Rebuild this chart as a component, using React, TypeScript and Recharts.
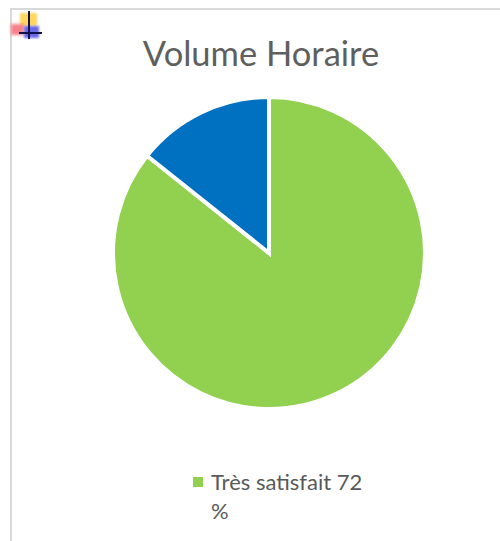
import { Legend, Pie, PieChart, Cell } from 'recharts'

const categories = ['Très satisfait 72 %', 'Satisfait 12 %']
const values = [72, 12]
const colors = ['#92D050', '#0070C0']

const data = categories.map((name, i) => ({ name, value: values[i] }))

const font = 'Lato, "Open Sans", sans-serif'

// only the first entry is visible in the picture, the rest is cut off
function LegendBox({ payload }: any) {
  const first = payload?.[0]
  if (!first) return null
  return (
    <div style={{ width: 176, boxSizing: 'border-box', fontFamily: font, fontSize: 22, lineHeight: '29px', color: '#595959', position: 'relative', paddingLeft: 18, textAlign: 'left' }}>
      <span style={{ position: 'absolute', left: 0, top: 10, width: 10, height: 10, background: first.color }} />
      {first.value}
    </div>
  )
}

// small toolbar-like icon in the corner of the frame
function CornerIcon() {
  return (
    <div style={{ position: 'absolute', left: 0, top: 0, width: 60, height: 60 }}>
      <div style={{ position: 'absolute', left: 20, top: 13, width: 17, height: 13, background: '#FFD75E', filter: 'blur(1px)' }} />
      <div style={{ position: 'absolute', left: 11, top: 24, width: 13, height: 11, background: '#F8808A', filter: 'blur(1.5px)' }} />
      <div style={{ position: 'absolute', left: 24, top: 26, width: 15, height: 12, background: '#6A6AE8', filter: 'blur(1px)' }} />
      <div style={{ position: 'absolute', left: 28, top: 11, width: 2, height: 28, background: '#10104A' }} />
      <div style={{ position: 'absolute', left: 19, top: 32, width: 23, height: 2, background: '#10104A' }} />
    </div>
  )
}

export default function App() {
  return (
    <div style={{ position: 'relative', width: 500, height: 541, background: '#fff', overflow: 'hidden' }}>
      <style>{'body { margin: 0; }'}</style>
      <div style={{ position: 'absolute', left: 10, top: 8, width: 490, height: 533, borderTop: '2px solid #D9D9D9', borderLeft: '2px solid #D9D9D9', boxSizing: 'border-box' }} />
      <CornerIcon />
      <div style={{ position: 'absolute', left: 0, top: 0 }}>
        <PieChart width={500} height={541} margin={{ top: 0, right: 0, bottom: 0, left: 0 }}>
          <text x={261} y={66} textAnchor="middle" fontFamily={font} fontSize={34.5} fill="#5f5f5f">
            Volume Horaire
          </text>
          <Pie
            data={data}
            dataKey="value"
            nameKey="name"
            cx={269}
            cy={253}
            innerRadius={0}
            outerRadius={156}
            startAngle={90}
            endAngle={-270}
            stroke="#fff"
            strokeWidth={4}
            isAnimationActive={false}
          >
            {data.map((d, i) => (
              <Cell key={d.name} fill={colors[i]} />
            ))}
          </Pie>
          <Legend
            content={<LegendBox />}
            itemSorter={null}
            layout="horizontal"
            verticalAlign="bottom"
            align="left"
            wrapperStyle={{ left: 193, top: 467, bottom: 'auto', width: 176 }}
          />
        </PieChart>
      </div>
    </div>
  )
}
